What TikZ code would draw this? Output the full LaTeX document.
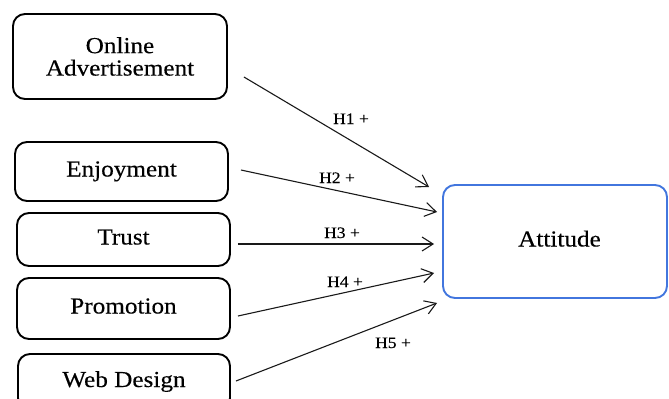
\documentclass[tikz,border=0pt]{standalone}
\usepackage{fontspec}
\setmainfont{Liberation Serif}[FakeStretch=1.1,FakeBold=0.3]
\usetikzlibrary{arrows.meta,calc}
\definecolor{attblue}{RGB}{66,118,222}
\begin{document}
\begin{tikzpicture}[x=1bp,y=-1bp,
  boxbase/.style={draw=black,line width=1.9bp,rounded corners=12bp,inner sep=0pt,
    font=\fontsize{23}{22.5}\selectfont,align=center},
  factor/.style={boxbase,text height=15bp,text depth=5bp},
  outcome/.style={factor,draw=attblue},
  hyp/.style={draw=black!90,line width=1.1bp,-{Straight Barb[length=11bp,width=14bp]}},
  hlab/.style={font=\fontsize{16}{18}\selectfont,anchor=base,inner sep=0pt}
]
\useasboundingbox (0,0) rectangle (669,398);
\clip (0,0) rectangle (669,398);

% predictor constructs
\node[boxbase,minimum width=214bp,minimum height=85bp] (oa) at (120,56.5)
  {Online\\Advertisement};
\node[factor,minimum width=213bp,minimum height=59bp] (enj) at (121.5,171.5) {Enjoyment};
\node[factor,minimum width=213bp,minimum height=53bp] (tru) at (123.5,239.5) {Trust};
\node[factor,minimum width=213bp,minimum height=61bp] (pro) at (123.5,308.5) {Promotion};
\node[factor,minimum width=212bp,minimum height=56bp] (web) at (124,382) {Web Design};

% dependent construct (label sits a little right of centre)
\node[outcome,minimum width=224bp,minimum height=113bp] (att) at (555,241.5)
  {\hspace*{9bp}Attitude};

% hypothesised paths
\draw[hyp] ($(oa.east)+(16,20.5)$)  -- ($(att.west)+(-13,-54.5)$);
\draw[hyp] ($(enj.east)+(12,-1.5)$) -- ($(att.west)+(-5,-29.5)$);
\draw[hyp] ($(tru.east)+(7,4.5)$)   -- ($(att.west)+(-8,2.5)$);
\draw[hyp] ($(pro.east)+(7,7.5)$)   -- ($(att.west)+(-8,31.5)$);
\draw[hyp] ($(web.east)+(5,-1)$)    -- ($(att.west)+(-5,61.5)$);

% path labels
\node[hlab] (h1) at (351,124) {H1 +};
\node[hlab] (h2) at (337,183) {H2 +};
\node[hlab] (h3) at (342,238) {H3 +};
\node[hlab] (h4) at (345,287) {H4 +};
\node[hlab] (h5) at (393,348) {H5 +};
\end{tikzpicture}
\end{document}
